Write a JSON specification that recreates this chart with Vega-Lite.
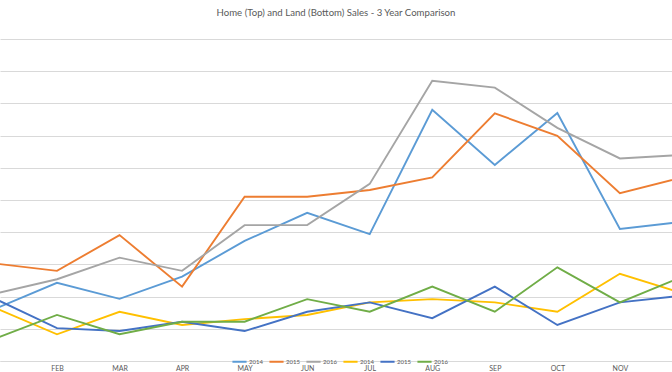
{
  "$schema": "https://vega.github.io/schema/vega-lite/v6.json",
  "autosize": "none",
  "width": 672,
  "height": 322,
  "padding": {"top": 39, "left": 0, "right": 0, "bottom": 11},
  "background": "white",
  "title": {
    "text": "Home (Top) and Land (Bottom) Sales - 3 Year Comparison",
    "font": "Lato",
    "fontSize": 9.6,
    "fontWeight": "normal",
    "color": "#595959",
    "anchor": "middle",
    "offset": 21
  },
  "config": {
    "view": {"stroke": null},
    "font": "Lato"
  },
  "data": {
    "values": [
      {"m": 1, "s": "Home 2014", "v": 16.1}, {"m": 2, "s": "Home 2014", "v": 24.3}, {"m": 3, "s": "Home 2014", "v": 19.3}, {"m": 4, "s": "Home 2014", "v": 26.2}, {"m": 5, "s": "Home 2014", "v": 37.3}, {"m": 6, "s": "Home 2014", "v": 46.0}, {"m": 7, "s": "Home 2014", "v": 39.4}, {"m": 8, "s": "Home 2014", "v": 78.0}, {"m": 9, "s": "Home 2014", "v": 60.9}, {"m": 10, "s": "Home 2014", "v": 77.0}, {"m": 11, "s": "Home 2014", "v": 41.0}, {"m": 12, "s": "Home 2014", "v": 43.2},
      {"m": 1, "s": "Home 2015", "v": 30.3}, {"m": 2, "s": "Home 2015", "v": 28.0}, {"m": 3, "s": "Home 2015", "v": 39.1}, {"m": 4, "s": "Home 2015", "v": 23.1}, {"m": 5, "s": "Home 2015", "v": 51.0}, {"m": 6, "s": "Home 2015", "v": 51.0}, {"m": 7, "s": "Home 2015", "v": 53.1}, {"m": 8, "s": "Home 2015", "v": 57.0}, {"m": 9, "s": "Home 2015", "v": 76.9}, {"m": 10, "s": "Home 2015", "v": 69.9}, {"m": 11, "s": "Home 2015", "v": 52.1}, {"m": 12, "s": "Home 2015", "v": 57.0},
      {"m": 1, "s": "Home 2016", "v": 20.9}, {"m": 2, "s": "Home 2016", "v": 25.4}, {"m": 3, "s": "Home 2016", "v": 32.1}, {"m": 4, "s": "Home 2016", "v": 28.0}, {"m": 5, "s": "Home 2016", "v": 42.2}, {"m": 6, "s": "Home 2016", "v": 42.2}, {"m": 7, "s": "Home 2016", "v": 55.0}, {"m": 8, "s": "Home 2016", "v": 87.0}, {"m": 9, "s": "Home 2016", "v": 84.9}, {"m": 10, "s": "Home 2016", "v": 72.4}, {"m": 11, "s": "Home 2016", "v": 62.9}, {"m": 12, "s": "Home 2016", "v": 64.0},
      {"m": 1, "s": "Land 2014", "v": 16.6}, {"m": 2, "s": "Land 2014", "v": 8.3}, {"m": 3, "s": "Land 2014", "v": 15.3}, {"m": 4, "s": "Land 2014", "v": 11.2}, {"m": 5, "s": "Land 2014", "v": 13.0}, {"m": 6, "s": "Land 2014", "v": 14.3}, {"m": 7, "s": "Land 2014", "v": 18.2}, {"m": 8, "s": "Land 2014", "v": 19.2}, {"m": 9, "s": "Land 2014", "v": 18.2}, {"m": 10, "s": "Land 2014", "v": 15.3}, {"m": 11, "s": "Land 2014", "v": 27.1}, {"m": 12, "s": "Land 2014", "v": 21.0},
      {"m": 1, "s": "Land 2015", "v": 19.4}, {"m": 2, "s": "Land 2015", "v": 10.2}, {"m": 3, "s": "Land 2015", "v": 9.3}, {"m": 4, "s": "Land 2015", "v": 12.2}, {"m": 5, "s": "Land 2015", "v": 9.3}, {"m": 6, "s": "Land 2015", "v": 15.3}, {"m": 7, "s": "Land 2015", "v": 18.2}, {"m": 8, "s": "Land 2015", "v": 13.3}, {"m": 9, "s": "Land 2015", "v": 23.1}, {"m": 10, "s": "Land 2015", "v": 11.2}, {"m": 11, "s": "Land 2015", "v": 18.2}, {"m": 12, "s": "Land 2015", "v": 20.3},
      {"m": 1, "s": "Land 2016", "v": 6.9}, {"m": 2, "s": "Land 2016", "v": 14.3}, {"m": 3, "s": "Land 2016", "v": 8.3}, {"m": 4, "s": "Land 2016", "v": 12.2}, {"m": 5, "s": "Land 2016", "v": 12.2}, {"m": 6, "s": "Land 2016", "v": 19.2}, {"m": 7, "s": "Land 2016", "v": 15.3}, {"m": 8, "s": "Land 2016", "v": 23.1}, {"m": 9, "s": "Land 2016", "v": 15.3}, {"m": 10, "s": "Land 2016", "v": 29.1}, {"m": 11, "s": "Land 2016", "v": 18.2}, {"m": 12, "s": "Land 2016", "v": 26.2}
    ]
  },
  "mark": {"type": "line", "clip": true, "strokeWidth": 1.9, "strokeJoin": "miter"},
  "encoding": {
    "x": {
      "field": "m",
      "type": "quantitative",
      "scale": {"domain": [1.089, 11.833], "nice": false, "zero": false},
      "axis": {
        "title": null,
        "values": [2, 3, 4, 5, 6, 7, 8, 9, 10, 11],
        "labelExpr": "['JAN','FEB','MAR','APR','MAY','JUN','JUL','AUG','SEP','OCT','NOV','DEC'][datum.value - 1]",
        "grid": false,
        "ticks": false,
        "domainColor": "#D9D9D9",
        "domainWidth": 1,
        "labelFontSize": 7,
        "labelColor": "#595959",
        "labelPadding": 3,
        "labelFlush": false
      }
    },
    "y": {
      "field": "v",
      "type": "quantitative",
      "scale": {"domain": [0, 100], "nice": false},
      "axis": {
        "title": null,
        "values": [0, 10, 20, 30, 40, 50, 60, 70, 80, 90, 100],
        "labels": false,
        "ticks": false,
        "domain": false,
        "grid": true,
        "gridColor": "#D9D9D9",
        "gridWidth": 1
      }
    },
    "color": {
      "field": "s",
      "type": "nominal",
      "scale": {
        "domain": ["Home 2014", "Home 2015", "Home 2016", "Land 2014", "Land 2015", "Land 2016"],
        "range": ["#5B9BD5", "#ED7D31", "#A5A5A5", "#FFC000", "#4472C4", "#70AD47"]
      },
      "legend": {
        "title": null,
        "orient": "none",
        "legendX": 231,
        "legendY": 314,
        "direction": "horizontal",
        "symbolType": "stroke",
        "symbolSize": 200,
        "symbolStrokeWidth": 2,
        "labelExpr": "slice(datum.label, 5)",
        "labelFontSize": 6,
        "labelColor": "#595959",
        "labelOffset": 1,
        "columnPadding": 2,
        "symbolOffset": 0
      }
    }
  }
}
